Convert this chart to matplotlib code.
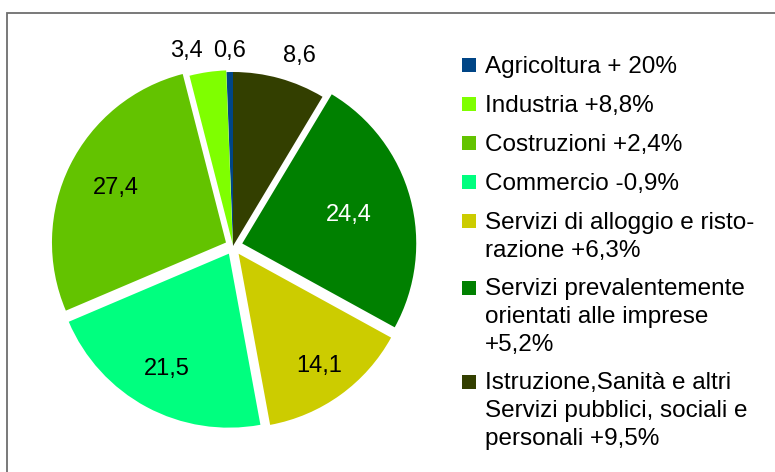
import numpy as np
import matplotlib.pyplot as plt
from matplotlib.patches import Rectangle

plt.rcParams['font.family'] = ['Liberation Sans', 'DejaVu Sans']

# dati del grafico (ordine della legenda)
settori = [
    'Agricoltura + 20%',
    'Industria +8,8%',
    'Costruzioni +2,4%',
    'Commercio -0,9%',
    'Servizi di alloggio e risto-\nrazione +6,3%',
    'Servizi prevalentemente\norientati alle imprese\n+5,2%',
    'Istruzione,Sanità e altri\nServizi pubblici, sociali e\npersonali +9,5%',
]
quote = [0.6, 3.4, 27.4, 21.5, 14.1, 24.4, 8.6]
colori = ['#004586', '#7fff00', '#63c300', '#00ff7f', '#cccc00', '#008000', '#333f00']
stacco = [0, 0.01, 0.045, 0.05, 0.055, 0.055, 0]

W, H = 775, 472
fig = plt.figure(figsize=(W / 100, H / 100), dpi=100)

# cornice grigia (esce dal bordo destro e inferiore)
fig.patches.append(Rectangle((7 / W, -0.1), 1.2, (H - 13) / H + 0.1,
                             transform=fig.transFigure, fill=False,
                             edgecolor='#6e6e6e', lw=1.3))

# asse della torta: centro (233, 246) px, raggio 174 px
R = 174
cx, cy = 233, 246
a = 1.4
side = 2 * a * R
ax = fig.add_axes([(cx - side / 2) / W, (H - cy - side / 2) / H, side / W, side / H])

etichette = [f'{v:.1f}'.replace('.', ',') for v in quote]
wedges, texts = ax.pie(quote, colors=colori, explode=stacco, startangle=90,
                       counterclock=True, labels=etichette, labeldistance=0.72,
                       textprops={'fontsize': 17, 'ha': 'center', 'va': 'center'})
ax.set_xlim(-a, a)
ax.set_ylim(-a, a)
ax.axis('off')

# distanza delle etichette interne dal centro, lungo la bisettrice
dist = {2: 0.75, 3: 0.80, 4: 0.85, 5: 0.69}
# etichette esterne per le fette piccole
esterne = {0: (-0.02, 1.12), 1: (-0.27, 1.12), 6: (0.38, 1.09)}
for i, (w, t) in enumerate(zip(wedges, texts)):
    if i in esterne:
        t.set_position(esterne[i])
    else:
        th = np.deg2rad((w.theta1 + w.theta2) / 2)
        t.set_position((dist[i] * np.cos(th), dist[i] * np.sin(th)))
    if i == 5:
        t.set_color('white')

# legenda disegnata a mano
y = 73
for nome, col in zip(settori, colori):
    fig.patches.append(Rectangle((462 / W, (H - y + 1) / H), 14 / W, 14 / H,
                                 transform=fig.transFigure, facecolor=col,
                                 edgecolor='none'))
    for riga in nome.split('\n'):
        fig.text(485 / W, (H - y) / H, riga, fontsize=17.5, va='baseline',
                 ha='left', color='black')
        y += 27.5
    y += 39 - 27.5

fig.savefig('out.png', dpi=100)
